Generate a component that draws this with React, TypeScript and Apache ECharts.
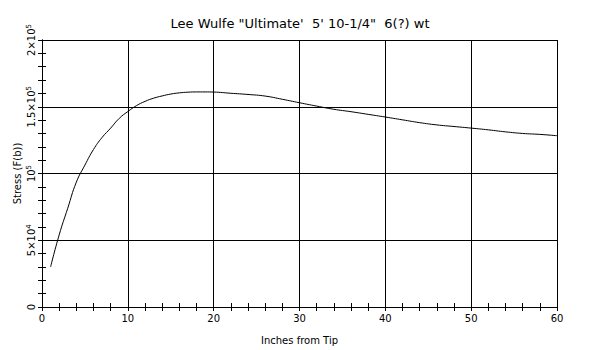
import React, { useEffect, useRef } from "react";
import * as echarts from "echarts";

const titleText = "Lee Wulfe \"Ultimate'  5' 10-1/4\"  6(?) wt";
const xName = "Inches from Tip";
const yName = "Stress (F(b))";
const inches = [1, 2, 3, 4, 5, 6, 7, 8, 9, 10, 11, 12, 13, 14, 15, 16, 17, 18, 19, 20, 22, 24, 26, 28, 30, 32, 34, 36, 38, 40, 42, 44, 46, 48, 50, 52, 54, 56, 58, 60];
const stress = [30000, 54000, 74000, 93500, 106300, 118000, 127000, 134000, 141300, 146400, 150800, 154000, 156400, 158100, 159500, 160400, 160900, 161100, 161100, 161000, 160100, 159200, 158000, 155600, 153000, 150500, 148100, 146300, 144300, 142300, 140200, 138100, 136400, 135200, 134000, 132700, 131200, 130000, 129300, 128300];
const yTickLabels: Record<number, string> = {
  0: "{b|0}",
  50000: "{b|5×10}{s|4}",
  100000: "{b|10}{s|5}",
  150000: "{b|1.5×10}{s|5}",
  200000: "{b|2×10}{s|5}",
};

const FONT = "'DejaVu Sans', 'Liberation Sans', sans-serif";

export default function App() {
  const ref = useRef<HTMLDivElement>(null);
  useEffect(() => {
    if (!ref.current) return;
    const chart = echarts.init(ref.current, null, { renderer: "svg" });
    const axisLine = { show: true, lineStyle: { color: "#000", width: 1 } };
    const minorTick = { show: true, splitNumber: 5, length: 4, lineStyle: { color: "#000", width: 1 } };
    const axisTick = { show: true, inside: true, length: 4, lineStyle: { color: "#000" } };
    chart.setOption({
      animation: false,
      backgroundColor: "#fff",
      title: {
        text: titleText,
        left: "center",
        top: 12,
        textStyle: { fontFamily: FONT, fontSize: 13, fontWeight: "normal", color: "#000" },
      },
      grid: { left: 42, right: 43, top: 40, bottom: 43, outerBoundsMode: "none", containLabel: false },
      xAxis: [
        {
          type: "value",
          min: 0,
          max: 60,
          interval: 10,
          name: xName,
          nameLocation: "middle",
          nameGap: 28,
          nameMoveOverlap: false,
          nameTextStyle: { fontFamily: FONT, fontSize: 10, color: "#000" },
          axisLine,
          axisTick,
          minorTick,
          splitLine: { show: true, lineStyle: { color: "#000", width: 1 } },
          axisLabel: { fontFamily: FONT, fontSize: 10, color: "#000", margin: 6 },
        },
        {
          type: "value",
          position: "top",
          min: 0,
          max: 60,
          interval: 10,
          axisLine,
          axisTick,
          minorTick,
          splitLine: { show: false },
          axisLabel: { show: false },
        },
      ],
      yAxis: [
        {
          type: "value",
          min: 0,
          max: 200000,
          interval: 50000,
          name: yName,
          nameLocation: "middle",
          nameGap: 20,
          nameRotate: 90,
          nameMoveOverlap: false,
          nameTextStyle: { fontFamily: FONT, fontSize: 10, color: "#000" },
          axisLine,
          axisTick,
          minorTick,
          splitLine: { show: true, lineStyle: { color: "#000", width: 1 } },
          axisLabel: {
            rotate: 90,
            color: "#000",
            margin: 6,
            formatter: (v: number) => yTickLabels[v] ?? "",
            rich: {
              b: { fontFamily: FONT, fontSize: 10, color: "#000", lineHeight: 11, verticalAlign: "bottom" },
              s: { fontFamily: FONT, fontSize: 7, color: "#000", lineHeight: 11, verticalAlign: "top" },
            },
          },
        },
        {
          type: "value",
          position: "right",
          min: 0,
          max: 200000,
          interval: 50000,
          axisLine,
          axisTick,
          minorTick,
          splitLine: { show: false },
          axisLabel: { show: false },
        },
      ],
      series: [
        {
          type: "line",
          data: inches.map((x, i) => [x, stress[i]]),
          smooth: true,
          showSymbol: false,
          lineStyle: { color: "#000", width: 1 },
          xAxisIndex: 0,
          yAxisIndex: 0,
        },
      ],
    });
    return () => chart.dispose();
  }, []);
  return <div ref={ref} style={{ width: 600, height: 350, position: "absolute", left: 0, top: 0 }} />;
}
